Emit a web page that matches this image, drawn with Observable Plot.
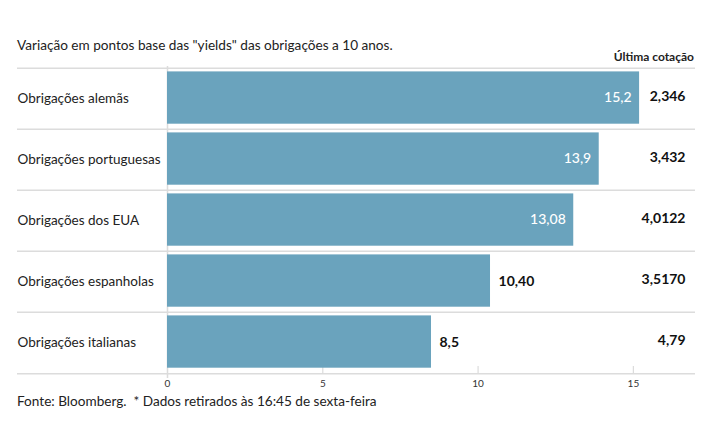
<!DOCTYPE html>
<html><head><meta charset="utf-8">
<script src="https://cdn.jsdelivr.net/npm/d3@7"></script>
<script src="https://cdn.jsdelivr.net/npm/@observablehq/plot@0.6"></script>
<style>
body{margin:0;background:#fff;font-family:Lato,sans-serif;color:#222;}
#head{position:relative;height:54px;width:715px}
#title{position:absolute;left:17px;top:36px;font-size:13.6px;line-height:18px;white-space:nowrap;}
#hdr{position:absolute;right:21px;top:50px;font-size:12px;line-height:14px;font-weight:bold;white-space:nowrap;}
#foot{margin-left:17px;font-size:13.6px;line-height:18px;white-space:nowrap;}
</style></head><body>
<div id="head"><div id="title"></div><div id="hdr"></div></div>
<div id="chart"></div>
<div id="foot"></div>
<script>
const categories = ["Obrigações alemãs", "Obrigações portuguesas", "Obrigações dos EUA", "Obrigações espanholas", "Obrigações italianas"];
const values = [15.2, 13.9, 13.08, 10.40, 8.5];
const valueLabels = ["15,2", "13,9", "13,08", "10,40", "8,5"];
const lastQuote = ["2,346", "3,432", "4,0122", "3,5170", "4,79"];
const xTicks = [0, 5, 10, 15];
const titleText = 'Variação em pontos base das "yields" das obrigações a 10 anos.';
const headerText = "Última cotação";
const footerText = "Fonte: Bloomberg.\u00a0 * Dados retirados às 16:45 de sexta-feira";

document.getElementById("title").textContent = titleText;
document.getElementById("hdr").textContent = headerText;
document.getElementById("foot").textContent = footerText;

const data = categories.map((c, i) => ({category: c, value: values[i], label: valueLabels[i], quote: lastQuote[i]}));
const H = 338, MT = 12, MB = 18, ML = 167, MR = 20;
const bw = (H - MT - MB) / categories.length;
const barColor = "#6aa3bd";
const lineColor = "#dcdcdc";

const chart = Plot.plot({
  width: 715, height: H,
  marginTop: MT, marginBottom: MB, marginLeft: ML, marginRight: MR,
  style: {fontFamily: "Lato, sans-serif", background: "#fff", color: "#222", overflow: "visible"},
  x: {domain: [0, 17]},
  y: {domain: categories, padding: 0, axis: null},
  marks: [
    Plot.ruleY(categories, {y: d => d, dy: -bw / 2, stroke: lineColor, strokeWidth: 1.5, insetLeft: -(ML - 17)}),
    Plot.ruleY(categories.slice(-1), {y: d => d, dy: bw / 2, stroke: lineColor, strokeWidth: 1.5, insetLeft: -(ML - 17)}),
    Plot.ruleX([0], {stroke: lineColor, strokeWidth: 1.5, insetBottom: -4}),
    Plot.ruleX(xTicks.slice(1), {stroke: lineColor, strokeWidth: 1.2, insetTop: H - MT - MB - 8}),
    Plot.axisX(xTicks, {tickSize: 0, tickPadding: 5, fontSize: 10, label: null, fill: "#333"}),
    Plot.barX(data, {y: "category", x: "value", fill: barColor, insetTop: 3.4, insetBottom: 5.3}),
    Plot.text(data, {y: "category", text: "category", frameAnchor: "left", textAnchor: "start", dx: -(ML - 17), fontSize: 13.5, fill: "#222"}),
    Plot.text(data.filter(d => d.value > 12), {x: "value", y: "category", text: "label", textAnchor: "end", dx: -8, dy: -1, fill: "white", fontSize: 14, fontWeight: 500}),
    Plot.text(data.filter(d => d.value <= 12), {x: "value", y: "category", text: "label", textAnchor: "start", dx: 8, fill: "#111", fontSize: 14, fontWeight: "bold"}),
    Plot.text(data, {y: "category", text: "quote", frameAnchor: "right", textAnchor: "end", dx: -10, dy: -2, fill: "#111", fontSize: 14, fontWeight: "bold"})
  ]
});
document.getElementById("chart").appendChild(chart);
</script>
</body></html>
